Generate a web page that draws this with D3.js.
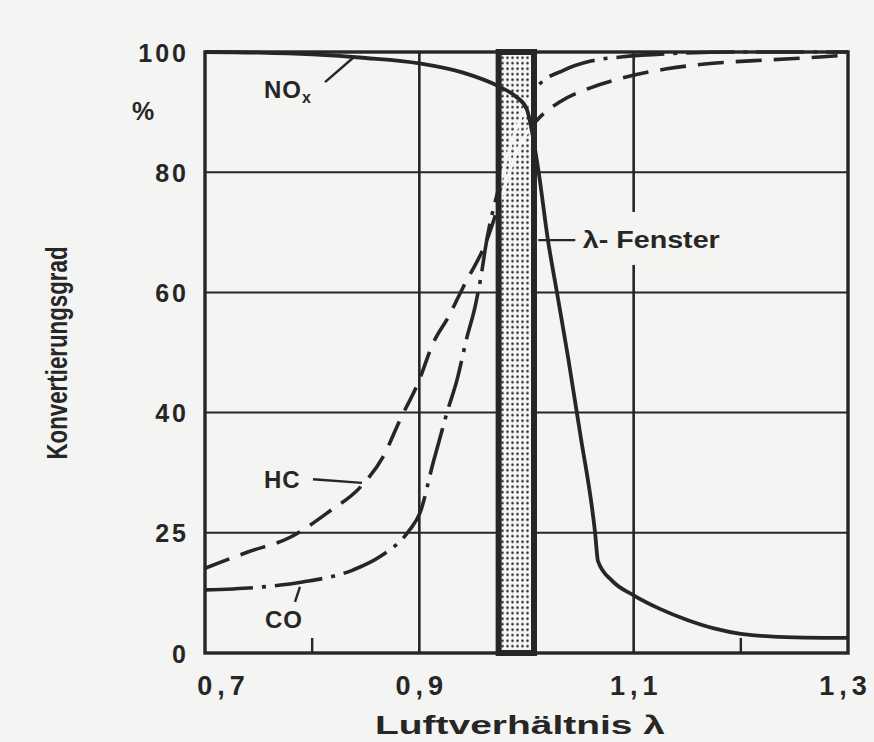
<!DOCTYPE html>
<html><head><meta charset="utf-8">
<script src="https://cdn.jsdelivr.net/npm/d3@7"></script>
<style>body{margin:0;background:#f4f4f2;} svg{display:block}</style>
</head><body><svg id="c" width="874" height="742"></svg>
<script>
// ---------- data ----------
const xTicks = [0.7, 0.9, 1.1, 1.3];
const xTickLabels = ["0,7", "0,9", "1,1", "1,3"];
const xMinorTicks = [0.8, 1.2];
const yTicks = [0, 20, 40, 60, 80, 100];
const yTickLabels = ["0", "25", "40", "60", "80", "100"];
const gridX = [0.9, 1.1];
const gridY = [20, 40, 60, 80];
const lambdaWindow = [0.974, 1.007];

const noxLambda = [0.70, 0.75, 0.80, 0.85, 0.90, 0.94, 0.975, 0.99, 1.000, 1.011, 1.020, 1.0285, 1.0387, 1.050, 1.064, 1.0667, 1.080, 1.100, 1.125, 1.150, 1.175, 1.200, 1.250, 1.300];
const noxValues = [100, 99.9, 99.6, 99.0, 98.1, 96.6, 94.2, 92.6, 90.6, 80.4, 68.7, 59.9, 49.3, 36.6, 20.0, 15.3, 12.0, 9.6, 7.3, 5.5, 4.1, 3.2, 2.6, 2.5];

const hcLambda = [0.70, 0.74, 0.78, 0.814, 0.847, 0.866, 0.882, 0.899, 0.913, 0.927, 0.941, 0.963, 0.975, 0.99, 1.00, 1.01, 1.031, 1.059, 1.09, 1.131, 1.18, 1.227, 1.277, 1.30];
const hcValues = [14.1, 16.8, 19.3, 23.3, 28.0, 32.6, 38.8, 45.0, 51.6, 55.9, 60.9, 68.7, 75.0, 83.0, 86.5, 88.7, 91.7, 94.0, 95.7, 97.2, 98.2, 98.7, 99.2, 99.5];

const coLambda = [0.70, 0.754, 0.791, 0.838, 0.863, 0.891, 0.9006, 0.9128, 0.9193, 0.9258, 0.9351, 0.9445, 0.952, 0.9585, 0.9613, 0.975, 0.99, 1.01, 1.035, 1.06, 1.09, 1.13, 1.20, 1.30];
const coValues = [10.5, 11.0, 11.8, 13.8, 16.0, 20.5, 23.3, 31.6, 35.8, 40.0, 45.4, 52.6, 57.6, 63.7, 67.0, 78.0, 87.0, 94.2, 97.0, 98.5, 99.2, 99.7, 100, 100];

// annotation anchors (λ, %)
const noxLabel = {pos: [0.755, 92.3], leader: [[0.812, 95.0], [0.838, 99.0]]};
const hcLabel = {pos: [0.755, 27.5], leader: [[0.8008, 28.9], [0.8465, 28.3]]};
const coLabel = {pos: [0.756, 4.2], leader: [[0.784, 8.5], [0.7886, 11.0]]};
const windowLabel = {text: "λ- Fenster", pos: [1.0525, 67.4], leader: [[1.011, 68.7], [1.0455, 68.7]]};

// ---------- drawing ----------
const ink = "#262626";
const bg = "#f4f4f2";
const font = "'Liberation Sans', Arial, sans-serif";
const svg = d3.select("#c");
svg.append("rect").attr("width", 874).attr("height", 742).attr("fill", bg);

const x = d3.scaleLinear().domain([0.7, 1.3]).range([205, 848]);
const y = d3.scaleLinear().domain([0, 100]).range([653, 52]);

const defs = svg.append("defs");
const pat = defs.append("pattern").attr("id", "dots").attr("patternUnits", "userSpaceOnUse")
  .attr("width", 5).attr("height", 5.5);
pat.append("rect").attr("width", 5).attr("height", 5.5).attr("fill", "#f6f6f4");
pat.append("circle").attr("cx", 2.5).attr("cy", 2.75).attr("r", 1.3).attr("fill", "#333");
defs.append("clipPath").attr("id", "bandClip").append("rect")
  .attr("x", x(lambdaWindow[0]) + 3).attr("y", y(100))
  .attr("width", x(lambdaWindow[1]) - x(lambdaWindow[0]) - 6).attr("height", y(0) - y(100));

// gridlines
svg.append("g").selectAll("line").data(gridY).join("line")
  .attr("x1", x(0.7)).attr("x2", x(1.3)).attr("y1", d => y(d)).attr("y2", d => y(d))
  .attr("stroke", ink).attr("stroke-width", 2);
svg.append("g").selectAll("line").data(gridX).join("line")
  .attr("x1", d => x(d)).attr("x2", d => x(d)).attr("y1", y(0)).attr("y2", y(100))
  .attr("stroke", ink).attr("stroke-width", 2.6);
svg.append("g").selectAll("line").data(xMinorTicks).join("line")
  .attr("x1", d => x(d)).attr("x2", d => x(d)).attr("y1", y(0)).attr("y2", y(0) - 15)
  .attr("stroke", ink).attr("stroke-width", 2.4);

const line = d3.line().x(d => x(d[0])).y(d => y(d[1])).curve(d3.curveMonotoneX);
const hcData = hcLambda.map((l, i) => [l, hcValues[i]]);
const coData = coLambda.map((l, i) => [l, coValues[i]]);
const noxData = noxLambda.map((l, i) => [l, noxValues[i]]);

svg.append("path").attr("d", line(hcData)).attr("fill", "none").attr("stroke", ink)
  .attr("stroke-width", 3.6).attr("stroke-dasharray", "26 12");
svg.append("path").attr("d", line(coData)).attr("fill", "none").attr("stroke", ink)
  .attr("stroke-width", 3.6).attr("stroke-dasharray", "48 9 4 9");

// λ window band
svg.append("rect").attr("x", x(lambdaWindow[0])).attr("y", y(100))
  .attr("width", x(lambdaWindow[1]) - x(lambdaWindow[0])).attr("height", y(0) - y(100))
  .attr("fill", "url(#dots)").attr("stroke", ink).attr("stroke-width", 6);
const inBand = svg.append("g").attr("clip-path", "url(#bandClip)");
inBand.append("path").attr("d", line(hcData)).attr("fill", "none").attr("stroke", "#f6f6f4").attr("stroke-width", 3);
inBand.append("path").attr("d", line(coData)).attr("fill", "none").attr("stroke", "#f6f6f4").attr("stroke-width", 3);

svg.append("path").attr("d", line(noxData)).attr("fill", "none").attr("stroke", ink)
  .attr("stroke-width", 3.8).attr("stroke-linejoin", "round");

// frame
svg.append("rect").attr("x", x(0.7)).attr("y", y(100)).attr("width", x(1.3) - x(0.7))
  .attr("height", y(0) - y(100)).attr("fill", "none").attr("stroke", ink).attr("stroke-width", 3.4);

// axes
const xAxis = d3.axisBottom(x).tickValues(xTicks).tickSize(0).tickPadding(0)
  .tickFormat((d, i) => xTickLabels[i]);
const gx = svg.append("g").attr("transform", `translate(0,${y(0)})`).call(xAxis);
gx.select(".domain").remove();
gx.selectAll("text").attr("font-family", font).attr("font-weight", "bold").attr("font-size", 27)
  .attr("fill", ink).attr("letter-spacing", 5).attr("dy", 0).attr("y", 42)
  .attr("dx", (d, i) => i === 0 ? 18 : (i === 3 ? -3 : 2));

const yAxis = d3.axisLeft(y).tickValues(yTicks).tickSize(0).tickPadding(0)
  .tickFormat((d, i) => yTickLabels[i]);
const gy = svg.append("g").attr("transform", `translate(${x(0.7)},0)`).call(yAxis);
gy.select(".domain").remove();
gy.selectAll("text").attr("font-family", font).attr("font-weight", "bold").attr("font-size", 25)
  .attr("fill", ink).attr("letter-spacing", 3).attr("x", -16).attr("dy", "0.36em");

svg.append("text").attr("x", 143).attr("y", 120).attr("text-anchor", "middle")
  .attr("font-family", font).attr("font-weight", "bold").attr("font-size", 25).attr("fill", ink).text("%");

// axis titles
svg.append("text").attr("transform", "translate(67,353) rotate(-90)").attr("text-anchor", "middle")
  .attr("font-family", "'Liberation Sans Narrow', " + font).attr("font-weight", "bold").attr("font-size", 30)
  .attr("textLength", 213).attr("lengthAdjust", "spacingAndGlyphs").attr("fill", ink).text("Konvertierungsgrad");
svg.append("text").attr("x", 520).attr("y", 734).attr("text-anchor", "middle")
  .attr("font-family", font).attr("font-weight", "bold").attr("font-size", 26)
  .attr("textLength", 290).attr("lengthAdjust", "spacingAndGlyphs")
  .attr("fill", ink).text("Luftverhältnis λ");

// annotations
function leader(pts) {
  svg.append("line").attr("x1", x(pts[0][0])).attr("y1", y(pts[0][1]))
    .attr("x2", x(pts[1][0])).attr("y2", y(pts[1][1])).attr("stroke", ink).attr("stroke-width", 2.4);
}
const nt = svg.append("text").attr("x", x(noxLabel.pos[0])).attr("y", y(noxLabel.pos[1]))
  .attr("font-family", font).attr("font-weight", "bold").attr("font-size", 24).attr("letter-spacing", 1).attr("fill", ink);
nt.append("tspan").text("NO");
nt.append("tspan").attr("font-size", 16).attr("dy", 5).text("x");
leader(noxLabel.leader);
svg.append("text").attr("x", x(hcLabel.pos[0])).attr("y", y(hcLabel.pos[1]))
  .attr("font-family", font).attr("font-weight", "bold").attr("font-size", 24).attr("letter-spacing", 1).attr("fill", ink).text("HC");
leader(hcLabel.leader);
svg.append("text").attr("x", x(coLabel.pos[0])).attr("y", y(coLabel.pos[1]))
  .attr("font-family", font).attr("font-weight", "bold").attr("font-size", 24).attr("letter-spacing", 1).attr("fill", ink).text("CO");
leader(coLabel.leader);

const wl = svg.append("text").attr("x", x(windowLabel.pos[0])).attr("y", y(windowLabel.pos[1]))
  .attr("font-family", font).attr("font-weight", "bold").attr("font-size", 24)
  .attr("textLength", 137).attr("lengthAdjust", "spacingAndGlyphs")
  .attr("fill", ink).text(windowLabel.text);
const bb = wl.node().getBBox();
svg.insert("rect", () => wl.node()).attr("x", bb.x - 3).attr("y", bb.y - 14)
  .attr("width", bb.width + 6).attr("height", bb.height + 26).attr("fill", bg);
leader(windowLabel.leader);
</script></body></html>
